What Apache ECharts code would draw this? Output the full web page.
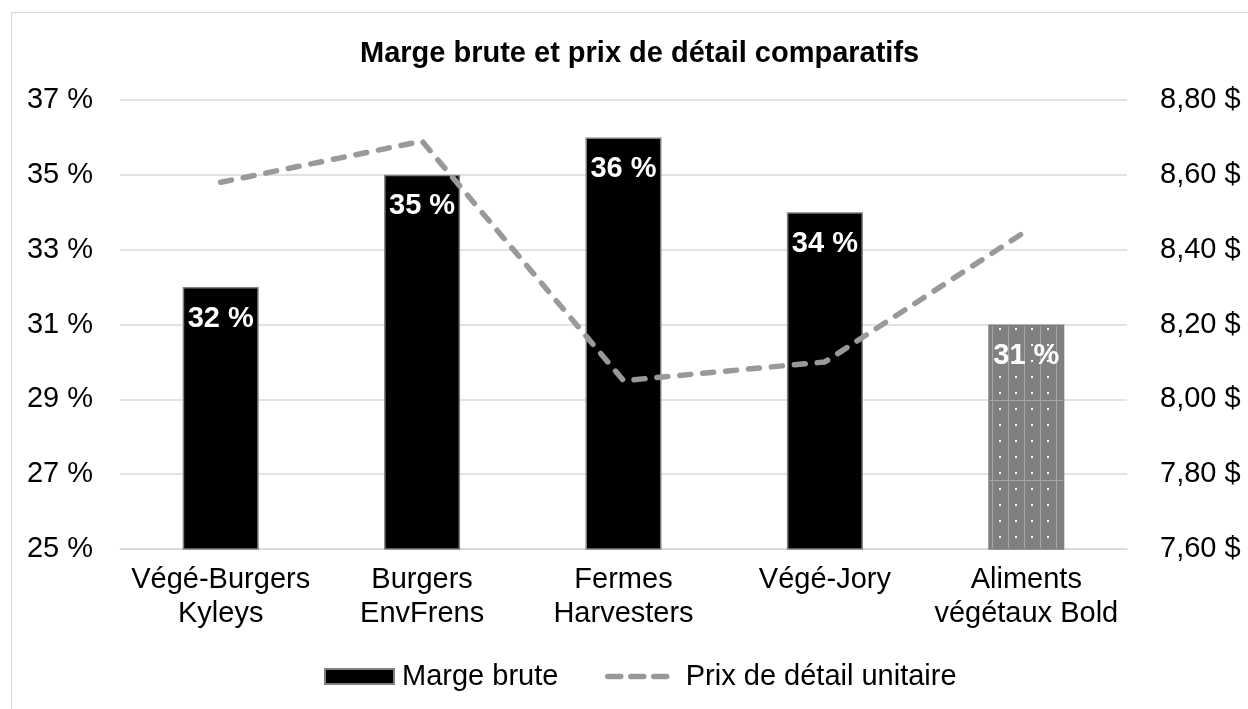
<!DOCTYPE html>
<html>
<head>
<meta charset="utf-8">
<script src="https://cdn.jsdelivr.net/npm/echarts@6/dist/echarts.min.js"></script>
<style>
  html, body { margin: 0; padding: 0; background: #fff; overflow: hidden; }
  .frame {
    position: absolute; left: 11px; top: 12px;
    width: 1400px; height: 900px;
    border: 1.5px solid #d9d9d9;
  }
  #chart { position: absolute; left: 0; top: 0; width: 1248px; height: 709px; }
</style>
</head>
<body>
<div class="frame"></div>
<div id="chart"></div>
<script>
// données du graphique
const categories = [
  'Végé-Burgers\nKyleys',
  'Burgers\nEnvFrens',
  'Fermes\nHarvesters',
  'Végé-Jory',
  'Aliments\nvégétaux Bold'
]
const margeBrute = [32, 35, 36, 34, 31]
const prixDetail = [8.58, 8.69, 8.05, 8.10, 8.45]
const margeAxis = { min: 25, max: 37, interval: 2 }
const prixAxis = { min: 7.6, max: 8.8, interval: 0.2 }

// motif pointillé de la dernière barre
const makePattern = () => {
  const c = document.createElement('canvas')
  c.width = 16
  c.height = 80
  const ctx = c.getContext('2d')
  ctx.fillStyle = '#808080'
  ctx.fillRect(0, 0, 16, 80)
  ctx.fillStyle = '#a6a6a6'
  ctx.fillRect(0, 0, 1, 80)
  ctx.fillRect(0, 0, 16, 1)
  ctx.fillStyle = '#ffffff'
  for (let y = 8; y < 80; y += 16) {
    ctx.fillRect(7, y, 2, 2)
  }
  return c
}

const font = 'Liberation Sans, Arial, sans-serif'
const fs = 29
const dash = { color: '#999999', width: 5.5, type: [11, 12], cap: 'round' }
const chart = echarts.init(document.getElementById('chart'))

const barData = margeBrute.map((v, i) => {
  if (i === margeBrute.length - 1) {
    return {
      value: v,
      itemStyle: { color: { image: makePattern(), repeat: 'repeat' } }
    }
  }
  return v
})

const legendText = pad => ({
  fontSize: fs, color: '#000', fontFamily: font, padding: [0, 0, 0, pad]
})

chart.setOption({
  backgroundColor: 'transparent',
  animation: false,
  textStyle: { fontFamily: font },
  title: {
    text: 'Marge brute et prix de détail comparatifs',
    left: 355,
    top: 34,
    textStyle: { fontSize: 29, fontWeight: 'bold', color: '#000', fontFamily: font }
  },
  // deux légendes pour garder des largeurs d'icône différentes
  legend: [
    {
      left: 324,
      top: 662,
      padding: 0,
      itemWidth: 69,
      itemHeight: 15,
      textStyle: legendText(3),
      data: [{ name: 'Marge brute', icon: 'rect' }]
    },
    {
      left: 605,
      top: 662,
      padding: 0,
      itemWidth: 65,
      itemHeight: 15,
      textStyle: legendText(8),
      data: [{
        name: 'Prix de détail unitaire',
        itemStyle: { opacity: 0 },
        lineStyle: { color: '#999999', width: 5.5, type: [13, 10], cap: 'round' }
      }]
    }
  ],
  grid: { left: 120, right: 121, top: 100, bottom: 160, containLabel: false },
  xAxis: {
    type: 'category',
    data: categories,
    axisLine: { lineStyle: { color: '#d9d9d9', width: 1.5 } },
    axisTick: { show: false },
    axisLabel: {
      color: '#000', fontSize: fs, lineHeight: 34, margin: 14,
      interval: 0, fontFamily: font
    }
  },
  yAxis: [
    {
      type: 'value',
      min: margeAxis.min, max: margeAxis.max, interval: margeAxis.interval,
      axisLine: { show: false },
      axisTick: { show: false },
      axisLabel: {
        color: '#000', fontSize: fs, margin: 27, fontFamily: font,
        formatter: v => v + ' %'
      },
      splitLine: { lineStyle: { color: '#d9d9d9', width: 1.5 } }
    },
    {
      type: 'value',
      min: prixAxis.min, max: prixAxis.max, interval: prixAxis.interval,
      axisLine: { show: false },
      axisTick: { show: false },
      axisLabel: {
        color: '#000', fontSize: fs, margin: 33, fontFamily: font,
        formatter: v => v.toFixed(2).replace('.', ',') + ' $'
      },
      splitLine: { show: false }
    }
  ],
  series: [
    {
      name: 'Marge brute',
      type: 'bar',
      yAxisIndex: 0,
      data: barData,
      barWidth: 76,
      itemStyle: { color: '#000', borderColor: '#7f7f7f', borderWidth: 1.5 },
      label: {
        show: true,
        position: 'insideTop',
        distance: 17,
        color: '#fff',
        fontSize: fs,
        fontWeight: 'bold',
        fontFamily: font,
        formatter: p => p.value + ' %'
      }
    },
    {
      name: 'Prix de détail unitaire',
      type: 'line',
      yAxisIndex: 1,
      data: prixDetail,
      symbol: 'none',
      lineStyle: dash,
      itemStyle: { color: '#999999' }
    }
  ]
})
</script>
</body>
</html>
